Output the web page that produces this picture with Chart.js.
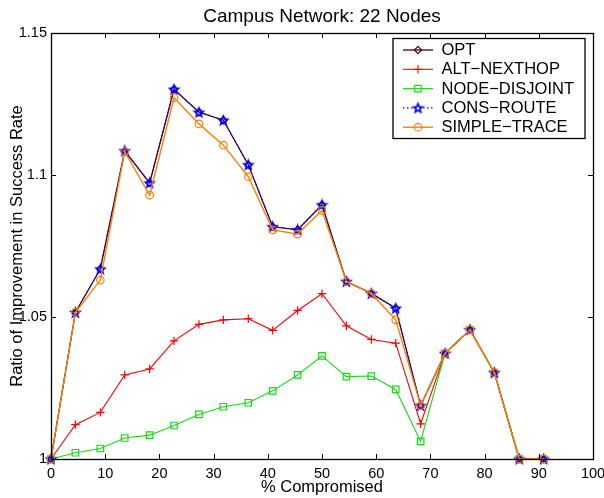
<!DOCTYPE html>
<html>
<head>
<meta charset="utf-8">
<script src="https://cdn.jsdelivr.net/npm/chart.js@4/dist/chart.umd.min.js"></script>
<style>
  html, body { margin: 0; padding: 0; background: #ffffff; }
  #c { display: block; }
</style>
</head>
<body>
<canvas id="c" width="604" height="498"></canvas>
<script>
// % of nodes compromised (k/22 for k = 0..20)
const compromised = [0, 4.5, 9.1, 13.6, 18.2, 22.7, 27.3, 31.8, 36.4, 40.9, 45.5,
                     50, 54.5, 59.1, 63.6, 68.2, 72.7, 77.3, 81.8, 86.4, 90.9];

// Ratio of improvement in success rate, per scheme
const optValues = [1.0, 1.0516, 1.0669, 1.1085, 1.0972, 1.1302, 1.1221, 1.1193, 1.1036, 1.0818, 1.0807,
                   1.0895, 1.0625, 1.0583, 1.0531, 1.0188, 1.0372, 1.0455, 1.0304, 1.0, 1.0];
const altNexthopValues = [1.0, 1.0121, 1.0164, 1.0296, 1.0317, 1.0416, 1.0474, 1.0490, 1.0494, 1.0453, 1.0523,
                          1.0582, 1.0469, 1.0421, 1.0408, 1.0124, 1.0372, 1.0455, 1.0304, 1.0, 1.0];
const nodeDisjointValues = [1.0, 1.0022, 1.0037, 1.0074, 1.0084, 1.0118, 1.0157, 1.0184, 1.0198, 1.0240, 1.0296,
                            1.0363, 1.0290, 1.0292, 1.0245, 1.0062, 1.0372, 1.0455, 1.0304, 1.0, 1.0];
const consRouteValues = [1.0, 1.0516, 1.0669, 1.1085, 1.0972, 1.1302, 1.1221, 1.1193, 1.1036, 1.0818, 1.0807,
                         1.0895, 1.0625, 1.0583, 1.0531, 1.0188, 1.0372, 1.0455, 1.0304, 1.0, 1.0];
const simpleTraceValues = [1.0, 1.0516, 1.0630, 1.1082, 1.0929, 1.1272, 1.1180, 1.1105, 1.0994, 1.0807, 1.0792,
                           1.0875, 1.0625, 1.0583, 1.0490, 1.0188, 1.0372, 1.0455, 1.0304, 1.0, 1.0];

const seriesNames = ['OPT', 'ALT\u2212NEXTHOP', 'NODE\u2212DISJOINT', 'CONS\u2212ROUTE', 'SIMPLE\u2212TRACE'];

const xTicks = [0, 10, 20, 30, 40, 50, 60, 70, 80, 90, 100];
const yTicks = [1, 1.05, 1.1, 1.15];
const yTickLabels = ['1', '1.05', '1.1', '1.15'];

const FONT = '"Liberation Sans", Arial, Helvetica, sans-serif';

// Five-pointed star marker
function makeStar(color) {
  const s = 13, cv = document.createElement('canvas');
  cv.width = s; cv.height = s;
  const g = cv.getContext('2d');
  const cx = s / 2, cy = s / 2 + 0.4, R = 4.6, r = 2.0;
  g.beginPath();
  for (let i = 0; i < 10; i++) {
    const a = -Math.PI / 2 + i * Math.PI / 5;
    const rad = i % 2 === 0 ? R : r;
    const px = cx + rad * Math.cos(a), py = cy + rad * Math.sin(a);
    if (i === 0) g.moveTo(px, py); else g.lineTo(px, py);
  }
  g.closePath();
  g.strokeStyle = color;
  g.lineWidth = 1.7;
  g.lineJoin = 'miter';
  g.stroke();
  return cv;
}
const starMarker = makeStar('#0000ff');

function pts(values) {
  return values.map((v, i) => ({ x: compromised[i], y: v }));
}

const styles = [
  { color: '#4a0012', pointStyle: 'rectRot', radius: 3.6, width: 1.3, dash: [], order: 5 },
  { color: '#ff0000', pointStyle: 'cross', radius: 4.2, width: 1.1, dash: [], order: 4 },
  { color: '#11dd11', pointStyle: 'rect', radius: 4.6, width: 1.1, dash: [], order: 3 },
  { color: '#0000ff', pointStyle: starMarker, radius: 5, width: 1.1, dash: [1.5, 2.5], order: 2 },
  { color: '#ff8000', pointStyle: 'circle', radius: 3.8, width: 1.4, dash: [], order: 1 }
];
const seriesValues = [optValues, altNexthopValues, nodeDisjointValues, consRouteValues, simpleTraceValues];

const datasets = seriesValues.map((vals, i) => ({
  label: seriesNames[i],
  data: pts(vals),
  borderColor: styles[i].color,
  backgroundColor: 'rgba(0,0,0,0)',
  borderWidth: styles[i].width,
  borderDash: styles[i].dash,
  pointStyle: styles[i].pointStyle,
  pointRadius: styles[i].radius,
  pointBorderColor: styles[i].color,
  pointBackgroundColor: 'rgba(0,0,0,0)',
  pointBorderWidth: 1.2,
  tension: 0,
  clip: false,
  order: styles[i].order
}));

// Axes box with inward tick marks on all four sides
const boxTicks = {
  id: 'boxTicks',
  afterDatasetsDraw(chart) {
    const { ctx, chartArea: a, scales } = chart;
    ctx.save();
    ctx.strokeStyle = '#000';
    ctx.lineWidth = 1;
    ctx.beginPath();
    const L = 5;
    xTicks.forEach(v => {
      const x = Math.round(scales.x.getPixelForValue(v)) + 0.5;
      ctx.moveTo(x, a.bottom); ctx.lineTo(x, a.bottom - L);
      ctx.moveTo(x, a.top); ctx.lineTo(x, a.top + L);
    });
    yTicks.forEach(v => {
      const y = Math.round(scales.y.getPixelForValue(v)) + 0.5;
      ctx.moveTo(a.left, y); ctx.lineTo(a.left + L, y);
      ctx.moveTo(a.right, y); ctx.lineTo(a.right - L, y);
    });
    ctx.stroke();
    ctx.lineWidth = 1.3;
    ctx.strokeRect(Math.round(a.left) + 0.5, Math.round(a.top) + 0.5,
                   Math.round(a.right - a.left), Math.round(a.bottom - a.top));
    ctx.restore();
  }
};

// Boxed legend in the upper-right corner with line + marker samples
const boxLegend = {
  id: 'boxLegend',
  afterDraw(chart) {
    const { ctx, chartArea: a } = chart;
    const w = 192, h = 100;
    const x0 = a.right - 8 - w, y0 = a.top + 5.5;
    ctx.save();
    ctx.fillStyle = '#fff';
    ctx.fillRect(x0, y0, w, h);
    ctx.strokeStyle = '#000';
    ctx.lineWidth = 1.3;
    ctx.strokeRect(x0, y0, w, h);
    ctx.font = '16.5px ' + FONT;
    ctx.textBaseline = 'middle';
    ctx.textAlign = 'left';
    chart.data.datasets.forEach((ds, i) => {
      const cy = y0 + 11.5 + i * 19.3;
      ctx.strokeStyle = ds.borderColor;
      ctx.lineWidth = ds.borderWidth;
      ctx.setLineDash(ds.borderDash || []);
      ctx.beginPath();
      ctx.moveTo(x0 + 10, cy); ctx.lineTo(x0 + 40, cy);
      ctx.stroke();
      ctx.setLineDash([]);
      // drawPoint strokes/fills with the current context colours
      ctx.strokeStyle = ds.pointBorderColor;
      ctx.fillStyle = 'rgba(0,0,0,0)';
      ctx.lineWidth = 1.1;
      Chart.helpers.drawPoint(ctx, {
        pointStyle: ds.pointStyle, radius: ds.pointRadius, rotation: 0,
        borderWidth: 1.1
      }, x0 + 25, cy);
      ctx.fillStyle = '#000';
      ctx.fillText(ds.label, x0 + 48.5, cy + 0.5);
    });
    ctx.restore();
  }
};

new Chart(document.getElementById('c'), {
  type: 'line',
  data: { datasets },
  plugins: [boxTicks, boxLegend],
  options: {
    responsive: false,
    animation: false,
    devicePixelRatio: 1,
    layout: { padding: { left: 0, right: 11, top: 0, bottom: 0 } },
    plugins: {
      legend: { display: false },
      tooltip: { enabled: false },
      title: {
        display: true,
        text: 'Campus Network: 22 Nodes',
        fullSize: false,
        color: '#000',
        font: { family: FONT, size: 19, weight: 'normal' },
        padding: { top: 5, bottom: 5.2 }
      }
    },
    scales: {
      x: {
        type: 'linear',
        min: 0, max: 100,
        afterBuildTicks(scale) { scale.ticks = xTicks.map(v => ({ value: v })); },
        afterFit(scale) {
          scale.height = 39;
          scale.paddingLeft = 0;
          scale.paddingRight = 0;
        },
        grid: { display: false, drawTicks: false },
        border: { display: false },
        ticks: {
          color: '#000',
          font: { family: FONT, size: 14.5 },
          padding: 6,
          maxRotation: 0,
          autoSkip: false
        },
        title: {
          display: true,
          text: '% Compromised',
          color: '#000',
          font: { family: FONT, size: 16.5 },
          padding: { top: 0, bottom: 0.5 }
        }
      },
      y: {
        type: 'linear',
        min: 1, max: 1.15,
        afterBuildTicks(scale) { scale.ticks = yTicks.map(v => ({ value: v })); },
        afterFit(scale) {
          scale.width = 51;
          scale.paddingTop = 0;
          scale.paddingBottom = 0;
        },
        grid: { display: false, drawTicks: false },
        border: { display: false },
        ticks: {
          color: '#000',
          font: { family: FONT, size: 14.5 },
          padding: 4,
          autoSkip: false,
          callback: (v, i) => yTickLabels[i]
        },
        title: {
          display: true,
          text: 'Ratio of Improvement in Success Rate',
          color: '#000',
          font: { family: FONT, size: 16.5 },
          padding: { top: 7.5, bottom: 0 }
        }
      }
    }
  }
});
</script>
</body>
</html>
